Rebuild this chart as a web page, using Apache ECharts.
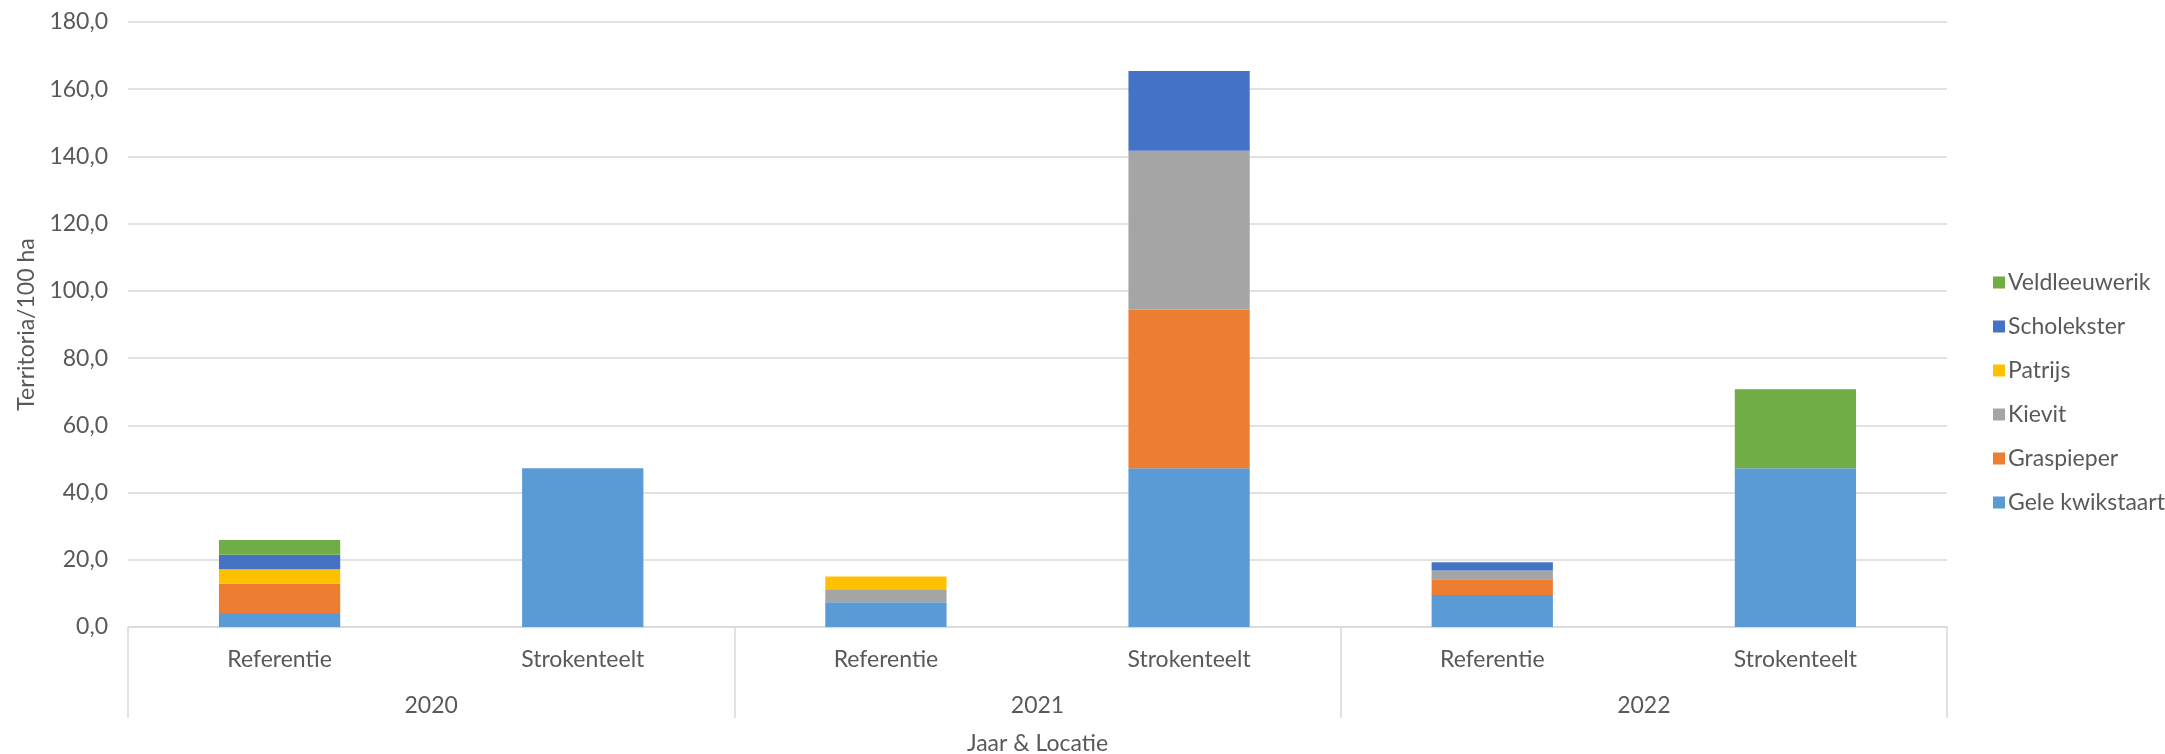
<!DOCTYPE html>
<html>
<head>
<meta charset="utf-8">
<script src="https://cdn.jsdelivr.net/npm/echarts@6/dist/echarts.min.js"></script>
<style>
html,body{margin:0;padding:0;background:#fff;}
#chart{width:2165px;height:754px;}
</style>
</head>
<body>
<div id="chart"></div>
<script>
const locations = ['Referentie', 'Strokenteelt', 'Referentie', 'Strokenteelt', 'Referentie', 'Strokenteelt'];
const years = ['2020', '2021', '2022'];
const geleKwikstaart = [4.2, 47.2, 7.4, 47.2, 9.5, 47.2];
const graspieper     = [8.7, 0, 0, 47.2, 4.7, 0];
const kievit         = [0, 0, 3.8, 47.3, 2.6, 0];
const patrijs        = [4.3, 0, 3.8, 0, 0, 0];
const scholekster    = [4.3, 0, 0, 23.7, 2.5, 0];
const veldleeuwerik  = [4.4, 0, 0, 0, 0, 23.5];
const yTicks = { min: 0, max: 180, interval: 20 };

const FONT = 'Lato';
const TXT = '#595959';
const GRID = '#d9d9d9';

const seriesDefs = [
  { name: 'Gele kwikstaart', data: geleKwikstaart, color: '#5B9BD5' },
  { name: 'Graspieper', data: graspieper, color: '#ED7D31' },
  { name: 'Kievit', data: kievit, color: '#A5A5A5' },
  { name: 'Patrijs', data: patrijs, color: '#FFC000' },
  { name: 'Scholekster', data: scholekster, color: '#4472C4' },
  { name: 'Veldleeuwerik', data: veldleeuwerik, color: '#70AD47' }
];

const chart = echarts.init(document.getElementById('chart'));
chart.setOption({
  animation: false,
  textStyle: { fontFamily: FONT },
  grid: { left: 128, right: 218, top: 22, bottom: 127, containLabel: false, outerBoundsMode: 'none' },
  legend: {
    orient: 'vertical',
    left: 1988,
    top: 266,
    itemWidth: 12,
    itemHeight: 12,
    itemGap: 21,
    icon: 'rect',
    data: seriesDefs.map(s => s.name).reverse(),
    textStyle: { color: TXT, fontSize: 23, fontFamily: FONT, padding: [0, 0, 0, -2] }
  },
  xAxis: [
    {
      type: 'category',
      data: locations,
      position: 'bottom',
      axisLine: { show: true, lineStyle: { color: GRID, width: 1.5 } },
      axisTick: { show: false },
      axisLabel: { color: TXT, fontSize: 23, margin: 21, fontFamily: FONT },
      name: 'Jaar & Locatie',
      nameLocation: 'middle',
      nameGap: 105,
      nameTextStyle: { color: TXT, fontSize: 23, fontFamily: FONT }
    },
    {
      type: 'category',
      data: years,
      position: 'bottom',
      axisLine: { show: false },
      axisTick: { show: true, length: 91, lineStyle: { color: GRID, width: 1.5 } },
      axisLabel: { color: TXT, fontSize: 23, margin: 67, fontFamily: FONT }
    }
  ],
  yAxis: {
    type: 'value',
    min: yTicks.min,
    max: yTicks.max,
    interval: yTicks.interval,
    axisLine: { show: false },
    axisTick: { show: false },
    splitLine: { lineStyle: { color: GRID, width: 1.5 } },
    axisLabel: {
      color: TXT, fontSize: 23, margin: 20, fontFamily: FONT,
      formatter: v => v.toFixed(1).replace('.', ',')
    },
    name: 'Territoria/100 ha',
    nameLocation: 'middle',
    nameGap: 86,
    nameTextStyle: { color: TXT, fontSize: 23, fontFamily: FONT }
  },
  series: seriesDefs.map(s => ({
    name: s.name,
    type: 'bar',
    stack: 'total',
    xAxisIndex: 0,
    barCategoryGap: '60%',
    data: s.data,
    itemStyle: { color: s.color }
  }))
});
</script>
</body>
</html>
